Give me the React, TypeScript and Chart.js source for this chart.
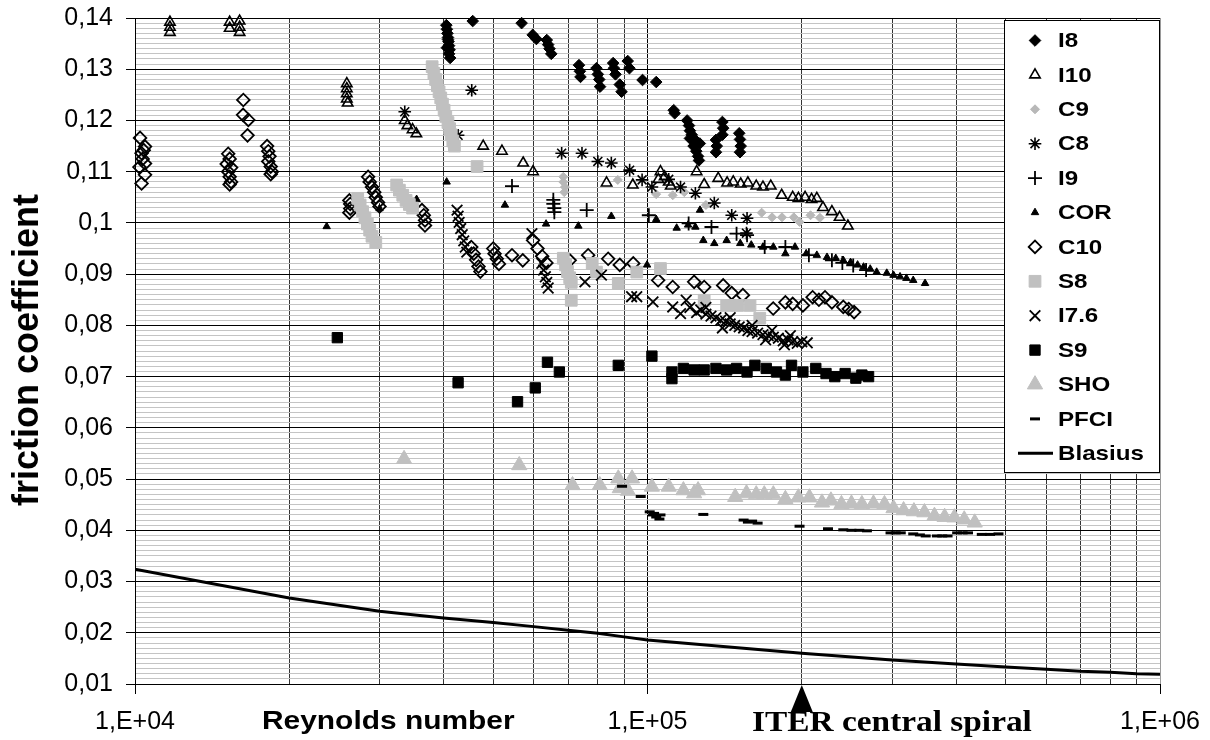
import React, { useEffect, useRef } from 'react';
import { Chart, registerables } from 'chart.js';
import { drawPoint } from 'chart.js/helpers';

Chart.register(...registerables);

// ---------- data (Reynolds number, friction coefficient) ----------
const i8: [number, number][] = [
  [40500, 0.1386], [40600, 0.1378], [40700, 0.137], [40800, 0.1362], [40900, 0.1354], [41000, 0.1346], [41100, 0.1338], [41000, 0.133], [41200, 0.1322], [40800, 0.1358], [40600, 0.1342],
  [45600, 0.1394], [56800, 0.139], [59700, 0.1367], [60700, 0.1359],
  [63600, 0.1357], [64000, 0.1348], [64400, 0.134], [64900, 0.133],
  [73500, 0.1308], [73800, 0.1296], [74000, 0.1285],
  [79500, 0.1302], [80000, 0.129], [80500, 0.128], [80800, 0.1266],
  [85700, 0.1312], [86000, 0.1302], [86600, 0.129], [88300, 0.127], [89000, 0.1256],
  [91500, 0.1316], [92200, 0.1302], [97800, 0.1279], [104000, 0.1275], [112500, 0.122], [113000, 0.1214],
  [119500, 0.12], [120500, 0.119], [121000, 0.118], [122000, 0.1172], [123000, 0.1165], [124000, 0.116], [123000, 0.115], [124500, 0.114], [125500, 0.113], [126000, 0.1122], [121000, 0.1165], [126500, 0.1155],
  [140000, 0.1197], [140500, 0.1185], [140000, 0.1172], [136000, 0.1162], [136500, 0.115], [136000, 0.1138],
  [151000, 0.1175], [151500, 0.1163], [152000, 0.115], [151500, 0.1138],
];
const i10: [number, number][] = [
  [11700, 0.1392], [11700, 0.1382], [11700, 0.1372],
  [15300, 0.1392], [15300, 0.138], [16000, 0.1394], [16000, 0.1382], [16000, 0.1372],
  [25900, 0.1272], [25900, 0.1262], [25900, 0.1252], [25900, 0.1242], [26000, 0.1234],
  [33600, 0.12], [34000, 0.119], [34800, 0.1182], [35400, 0.1174],
  [47800, 0.115], [52000, 0.114], [57200, 0.1117], [59800, 0.11], [83200, 0.1078], [93600, 0.1074],
  [105000, 0.1085], [106000, 0.11], [108000, 0.109], [110000, 0.108], [111000, 0.1072],
  [124700, 0.11], [129000, 0.1075], [137400, 0.1087], [143000, 0.1078], [147000, 0.108], [152000, 0.1076], [157000, 0.1078], [163000, 0.1072], [168000, 0.107], [174000, 0.1072],
  [182700, 0.1054], [192000, 0.105], [197000, 0.1048], [203000, 0.105], [209000, 0.1046], [214000, 0.1048],
  [220000, 0.103], [229000, 0.1022], [237000, 0.1011], [246000, 0.0994],
];
const c9: [number, number][] = [
  [68500, 0.109], [68500, 0.108], [69000, 0.107], [68800, 0.106], [87500, 0.1084], [104000, 0.1056], [112000, 0.1054], [118000, 0.106], [130000, 0.1035],
  [167000, 0.102], [175000, 0.1011], [183000, 0.1011], [193000, 0.1011], [198000, 0.1002], [208000, 0.1015], [217000, 0.101],
];
const c8: [number, number][] = [
  [33600, 0.1217], [42700, 0.1171], [45400, 0.1259], [68000, 0.1136], [74500, 0.1136], [80000, 0.112], [85000, 0.1117], [92300, 0.1103], [97600, 0.1084], [102000, 0.107],
  [110000, 0.1085], [116000, 0.107], [124000, 0.1058], [135000, 0.1039], [146000, 0.1015], [156400, 0.1009], [156000, 0.098],
];
const i9: [number, number][] = [
  [54400, 0.1072], [65500, 0.1045], [65500, 0.1037], [65800, 0.1029], [65800, 0.1021], [76100, 0.1025], [100600, 0.1015], [120300, 0.0999], [133300, 0.0992], [149200, 0.0979], [156400, 0.0976],
  [169300, 0.0953], [185800, 0.0953], [206500, 0.0937], [229000, 0.0927], [240000, 0.0922], [252000, 0.0917], [267000, 0.0908],
];
const cor: [number, number][] = [
  [23660, 0.0993], [30000, 0.1028], [35440, 0.1046], [40560, 0.108], [52700, 0.1035], [63400, 0.0998], [73300, 0.0994], [85000, 0.1013], [99800, 0.0918], [104000, 0.1007],
  [114000, 0.099], [120000, 0.0996], [124000, 0.0992], [126600, 0.1025], [128500, 0.0966], [135000, 0.096], [142700, 0.0966], [151700, 0.096], [159400, 0.0957], [168000, 0.0953],
  [176000, 0.0953], [185800, 0.094], [194000, 0.0953], [204000, 0.094], [214000, 0.0937], [224000, 0.0933], [233000, 0.0931], [241000, 0.0927], [249000, 0.0923], [257000, 0.0918],
  [264000, 0.0914], [272000, 0.091], [280000, 0.0904], [293000, 0.0902], [302000, 0.0898], [311000, 0.0895], [320000, 0.0892], [330000, 0.0888], [348000, 0.0882],
];
const c10: [number, number][] = [
  [10230, 0.1166], [10460, 0.1149], [10300, 0.1136], [10400, 0.1142], [10350, 0.1125], [10460, 0.1116], [10200, 0.1109], [10460, 0.1094], [10300, 0.1077],
  [16270, 0.124], [16250, 0.1211], [16640, 0.1201], [16580, 0.1171],
  [15200, 0.1135], [15300, 0.1125], [15100, 0.1115], [15400, 0.1108], [15200, 0.11], [15300, 0.109], [15400, 0.108], [15300, 0.1075],
  [18100, 0.115], [18200, 0.114], [18300, 0.113], [18200, 0.112], [18400, 0.111], [18500, 0.11], [18400, 0.1095],
  [26200, 0.1044], [26300, 0.1037], [26300, 0.1028], [26200, 0.102],
  [28500, 0.109], [28700, 0.108], [29000, 0.107], [29300, 0.106], [29500, 0.105], [29800, 0.104], [30000, 0.1032],
  [36300, 0.1025], [36600, 0.1015], [36800, 0.1005], [36800, 0.0995],
  [45300, 0.0953], [45800, 0.094], [46300, 0.0928], [46800, 0.0915], [47200, 0.0905],
  [50000, 0.095], [50300, 0.094], [50800, 0.093], [51300, 0.092],
  [54400, 0.0937], [57100, 0.0927], [59800, 0.0966], [61000, 0.095], [62300, 0.0935], [63500, 0.0922],
  [70500, 0.0927], [76600, 0.0937], [83800, 0.093], [88300, 0.0918], [93800, 0.0921],
  [104900, 0.0888], [112000, 0.0875], [123300, 0.0885], [129000, 0.0875], [140500, 0.0878], [146000, 0.0863], [153500, 0.0859],
  [175900, 0.0833], [185800, 0.0845], [192000, 0.0842], [201000, 0.0839], [210000, 0.0855], [216000, 0.085], [222000, 0.0855], [229000, 0.0845], [241000, 0.0836], [247000, 0.0832], [253000, 0.0826],
];
const s8: [number, number][] = [
  [27200, 0.1048], [27500, 0.1035], [27800, 0.1022], [28100, 0.101], [28400, 0.0998], [28700, 0.0986], [29000, 0.0974], [29500, 0.0962],
  [32400, 0.1074], [32800, 0.1064], [33300, 0.1054], [33800, 0.1044], [34300, 0.1036], [34800, 0.1029],
  [38000, 0.1305], [38300, 0.1292], [38600, 0.128], [38900, 0.1268], [39200, 0.1256], [39500, 0.1244], [39800, 0.1232], [40100, 0.122], [40400, 0.1208], [40800, 0.1196], [41100, 0.1184], [41400, 0.1172], [41700, 0.116], [42000, 0.115],
  [46500, 0.111],
  [68500, 0.0931], [69200, 0.0918], [69800, 0.0905], [70500, 0.0893], [71000, 0.0884], [71000, 0.0849],
  [78000, 0.0921], [79500, 0.0904], [87700, 0.0882], [95300, 0.0904], [106000, 0.0911],
  [129000, 0.0849], [142700, 0.0839], [150000, 0.0839], [158500, 0.0839], [165600, 0.0814],
];
const i76: [number, number][] = [
  [42500, 0.1025], [42700, 0.1013], [42900, 0.1001], [43200, 0.0989], [43500, 0.0977], [43800, 0.0965], [44100, 0.0953], [44400, 0.0943],
  [59500, 0.0979], [62200, 0.0921], [62700, 0.0908], [63200, 0.0895], [63600, 0.0884], [64000, 0.0873],
  [75500, 0.0885], [81300, 0.0898], [93100, 0.0856], [95300, 0.0856], [102500, 0.0846], [112000, 0.0836], [116000, 0.0823],
  [119000, 0.0849], [121000, 0.0835], [124700, 0.0825], [127000, 0.083], [130000, 0.0822], [133000, 0.0818], [136000, 0.0815], [139000, 0.081], [142000, 0.0808],
  [145000, 0.0803], [148000, 0.08], [151000, 0.0797], [154000, 0.0795], [157000, 0.079], [160000, 0.0788], [164000, 0.0785], [168000, 0.0782], [172000, 0.078],
  [176000, 0.0777], [180000, 0.0775], [184000, 0.077], [188000, 0.0772], [192000, 0.0768], [196000, 0.0765], [200000, 0.0768], [205000, 0.0766],
  [130000, 0.0835], [140000, 0.0795], [145000, 0.0815], [160000, 0.08], [170000, 0.0772], [175000, 0.079], [185000, 0.0762], [190000, 0.078],
];
const s9: [number, number][] = [
  [24820, 0.0776], [42700, 0.0688], [55770, 0.0651], [60400, 0.0678], [63800, 0.0728], [67300, 0.0709], [87700, 0.0722], [102000, 0.074],
  [111600, 0.0709], [111600, 0.0696], [117500, 0.0716], [123300, 0.0713], [129000, 0.0713], [136000, 0.0716], [142700, 0.0713], [149200, 0.0716],
  [156400, 0.0709], [162000, 0.0722], [170500, 0.0716], [178500, 0.0709], [185800, 0.0703], [191000, 0.0722], [201000, 0.0709], [213000, 0.0716],
  [223000, 0.0706], [232000, 0.07], [243000, 0.0706], [255000, 0.0697], [262000, 0.0703], [270000, 0.07],
];
const sho: [number, number][] = [
  [33500, 0.0539], [56200, 0.0527], [71400, 0.0488], [80700, 0.0488], [87700, 0.0501], [88300, 0.0482], [91600, 0.0477], [93300, 0.0501],
  [102000, 0.0485], [110000, 0.0485], [117500, 0.0478], [123300, 0.0472], [125500, 0.0478], [148300, 0.0465], [156000, 0.0472], [163000, 0.047],
  [169000, 0.047], [176000, 0.047], [185800, 0.0461], [196900, 0.0464], [207000, 0.0464], [219000, 0.0454], [228000, 0.0458], [239000, 0.0451],
  [250000, 0.0452], [262000, 0.0451], [276000, 0.0452], [290000, 0.0451], [302000, 0.0443], [316000, 0.0439], [331000, 0.0437], [347000, 0.0435],
  [363000, 0.0428], [380000, 0.0426], [397000, 0.0425], [415000, 0.0421], [435000, 0.0415],
];
const pfci: [number, number][] = [
  [89200, 0.0486], [97000, 0.0466], [101000, 0.0436], [102500, 0.043], [103000, 0.0433], [104000, 0.0426], [105500, 0.0422], [106000, 0.043],
  [128500, 0.0431], [154000, 0.042], [157000, 0.0416], [160000, 0.0418], [164000, 0.0414], [198000, 0.0408], [225000, 0.0403], [241000, 0.0401],
  [250000, 0.04], [259000, 0.04], [268000, 0.0399], [298000, 0.0395], [305000, 0.0395], [312000, 0.0395], [330000, 0.0393], [340000, 0.0391],
  [349000, 0.0389], [367000, 0.0389], [376000, 0.0389], [385000, 0.0389], [402000, 0.0395], [412000, 0.0395], [422000, 0.0395], [449000, 0.0392],
  [466000, 0.0392], [484000, 0.0393],
];
const blasius: [number, number][] = [
  [10000, 0.0324], [20000, 0.0268], [30000, 0.0242], [40000, 0.0229], [50000, 0.022], [60000, 0.0212], [70000, 0.0205], [80000, 0.0199], [90000, 0.0192],
  [100000, 0.0186], [200000, 0.016], [300000, 0.0147], [400000, 0.0139], [500000, 0.0133], [600000, 0.0129], [700000, 0.0125], [800000, 0.0123],
  [900000, 0.012], [1000000, 0.0119],
];

const xTickValues = [10000, 20000, 30000, 40000, 50000, 60000, 70000, 80000, 90000, 100000, 200000, 300000, 400000, 500000, 600000, 700000, 800000, 900000, 1000000];
const yTickValues: number[] = [];
for (let i = 10; i <= 140; i++) yTickValues.push(i / 1000);

// ---------- styling ----------
const NONE = 'rgba(0,0,0,0)';
const GREY = '#c0c0c0';
const series = [
  { label: 'I8', data: i8, style: 'rectRot', r: 5.8, fill: '#000', stroke: '#000', bw: 1 },
  { label: 'I10', data: i10, style: 'triangle', r: 6, fill: NONE, stroke: '#000', bw: 1.6 },
  { label: 'C9', data: c9, style: 'rectRot', r: 4.5, fill: '#b8b8b8', stroke: '#b8b8b8', bw: 1 },
  { label: 'C8', data: c8, style: 'star', r: 6.3, fill: NONE, stroke: '#000', bw: 1.6 },
  { label: 'I9', data: i9, style: 'cross', r: 7, fill: NONE, stroke: '#000', bw: 1.8 },
  { label: 'COR', data: cor, style: 'triangle', r: 4.3, fill: '#000', stroke: '#000', bw: 1 },
  { label: 'C10', data: c10, style: 'rectRot', r: 6.3, fill: NONE, stroke: '#000', bw: 1.8 },
  { label: 'S8', data: s8, style: 'rect', r: 8.3, fill: GREY, stroke: GREY, bw: 1 },
  { label: 'I7.6', data: i76, style: 'crossRot', r: 7.5, fill: NONE, stroke: '#000', bw: 1.8 },
  { label: 'S9', data: s9, style: 'rect', r: 7.3, fill: '#000', stroke: '#000', bw: 1 },
  { label: 'SHO', data: sho, style: 'triangle', r: 8.8, fill: GREY, stroke: GREY, bw: 1 },
  { label: 'PFCI', data: pfci, style: 'line', r: 5, fill: NONE, stroke: '#000', bw: 3 },
];

const SANS = "'Liberation Sans', Arial, sans-serif";
const SERIF = "'Liberation Serif', 'Times New Roman', serif";

const isDecade = (v: number) => Math.abs(Math.log10(v) - Math.round(Math.log10(v))) < 1e-9;
const isMajorY = (v: number) => Math.abs(v * 100 - Math.round(v * 100)) < 1e-6;
const xLabel = (v: number) => (isDecade(v) ? '1,E+' + String(Math.round(Math.log10(v))).padStart(2, '0') : '');
const yLabel = (v: number) => (isMajorY(v) ? String(Math.round(v * 100) / 100).replace('.', ',') : '');

const stretchText = (ctx: CanvasRenderingContext2D, text: string, x: number, y: number, sx: number) => {
  ctx.save();
  ctx.translate(x, y);
  ctx.scale(sx, 1);
  ctx.fillText(text, 0, 0);
  ctx.restore();
};

const overlay = {
  id: 'overlay',
  afterDraw(chart: any) {
    const ctx: CanvasRenderingContext2D = chart.ctx;
    const xs = chart.scales.x;
    const { bottom } = chart.chartArea;
    ctx.save();

    // legend box
    const bx = 1004.5, by = 20.5, bw = 155, bh = 452;
    ctx.fillStyle = '#fff';
    ctx.fillRect(bx, by, bw, bh);
    ctx.strokeStyle = '#000';
    ctx.lineWidth = 1;
    ctx.strokeRect(bx, by, bw, bh);

    const rows = [...series.map((s) => s.label), 'Blasius'];
    rows.forEach((label, i) => {
      const y = 40.5 + i * 34.4;
      const s = series[i];
      if (s) {
        ctx.fillStyle = s.fill;
        ctx.strokeStyle = s.stroke;
        ctx.lineWidth = s.bw;
        drawPoint(ctx, { pointStyle: s.style, radius: s.r, borderWidth: s.bw, rotation: 0 } as any, 1035, y);
      } else {
        ctx.strokeStyle = '#000';
        ctx.lineWidth = 3;
        ctx.beginPath();
        ctx.moveTo(1018, y);
        ctx.lineTo(1053, y);
        ctx.stroke();
      }
      ctx.fillStyle = '#000';
      ctx.font = `bold 21px ${SANS}`;
      ctx.textAlign = 'left';
      ctx.textBaseline = 'middle';
      stretchText(ctx, label, 1058, y + 1, 1.15);
    });

    // axis titles
    ctx.fillStyle = '#000';
    ctx.textBaseline = 'alphabetic';
    ctx.textAlign = 'left';
    ctx.font = `bold 26px ${SANS}`;
    stretchText(ctx, 'Reynolds number', 262, 729, 1.15);

    ctx.textAlign = 'center';
    ctx.font = `bold 29px ${SERIF}`;
    stretchText(ctx, 'ITER central spiral', 892, 731, 1.15);

    // arrow at ITER central spiral Reynolds number
    const ax = xs.getPixelForValue(200000);
    ctx.beginPath();
    ctx.moveTo(ax, bottom + 1);
    ctx.lineTo(ax - 11, bottom + 28);
    ctx.lineTo(ax + 11, bottom + 28);
    ctx.closePath();
    ctx.fill();

    // y title
    ctx.save();
    ctx.translate(38, 350);
    ctx.rotate(-Math.PI / 2);
    ctx.textAlign = 'center';
    ctx.font = `bold 36px ${SANS}`;
    ctx.fillText('friction coefficient', 0, 0);
    ctx.restore();

    ctx.restore();
  },
};

export default function App() {
  const ref = useRef<HTMLCanvasElement>(null);
  useEffect(() => {
    const n = series.length;
    const datasets: any[] = series.map((s, i) => ({
      label: s.label,
      data: s.data.map(([x, y]) => ({ x, y })),
      pointStyle: s.style,
      pointRadius: s.r,
      pointHoverRadius: s.r,
      pointBackgroundColor: s.fill,
      pointBorderColor: s.stroke,
      pointBorderWidth: s.bw,
      showLine: false,
      clip: false,
      order: n + 1 - i,
    }));
    datasets.push({
      label: 'Blasius',
      data: blasius.map(([x, y]) => ({ x, y })),
      showLine: true,
      borderColor: '#000',
      borderWidth: 3,
      pointRadius: 0,
      tension: 0,
      order: 0,
    });

    const chart = new Chart(ref.current as HTMLCanvasElement, {
      type: 'scatter',
      data: { datasets },
      options: {
        animation: false,
        responsive: false,
        devicePixelRatio: 1,
        layout: { padding: { left: 0, top: 18, right: 50, bottom: 0 } },
        plugins: { legend: { display: false }, tooltip: { enabled: false }, title: { display: false } },
        scales: {
          x: {
            type: 'logarithmic',
            min: 10000,
            max: 1000000,
            afterBuildTicks: (s: any) => { s.ticks = xTickValues.map((v) => ({ value: v })); },
            afterFit: (s: any) => { s.height = 56; s.paddingLeft = 0; s.paddingRight = 0; },
            ticks: {
              autoSkip: false, maxRotation: 0, minRotation: 0, padding: 13, color: '#000',
              font: { family: SANS, size: 25 },
              callback: (v: any) => xLabel(Number(v)),
            },
            grid: {
              color: (c: any) => (c.tick && c.tick.value >= 1000000 ? '#9a9a9a' : c.tick && isDecade(c.tick.value) ? '#000' : '#333'),
              lineWidth: 1,
              tickLength: 10,
              tickColor: (c: any) => (c.tick && isDecade(c.tick.value) ? '#000' : NONE),
            },
            border: { color: '#000', width: 1 },
          },
          y: {
            type: 'linear',
            min: 0.01,
            max: 0.14,
            afterBuildTicks: (s: any) => { s.ticks = yTickValues.map((v) => ({ value: v })); },
            afterFit: (s: any) => { s.width = 135; s.paddingTop = 0; s.paddingBottom = 0; },
            ticks: {
              autoSkip: false, padding: 13, color: '#000',
              font: { family: SANS, size: 25 },
              callback: (v: any) => yLabel(Number(v)),
            },
            grid: {
              color: (c: any) => (c.tick && isMajorY(c.tick.value) ? '#000' : '#c4c4c4'),
              lineWidth: 1,
              tickLength: 9,
              tickColor: (c: any) => (c.tick && isMajorY(c.tick.value) ? '#000' : NONE),
            },
            border: { color: '#000', width: 1 },
          },
        },
      } as any,
      plugins: [overlay],
    });
    return () => chart.destroy();
  }, []);

  return (
    <div style={{ position: 'absolute', left: 0, top: 0, width: 1210, height: 740, background: '#fff' }}>
      <canvas ref={ref} width={1210} height={740} style={{ display: 'block', width: 1210, height: 740 }} />
    </div>
  );
}
